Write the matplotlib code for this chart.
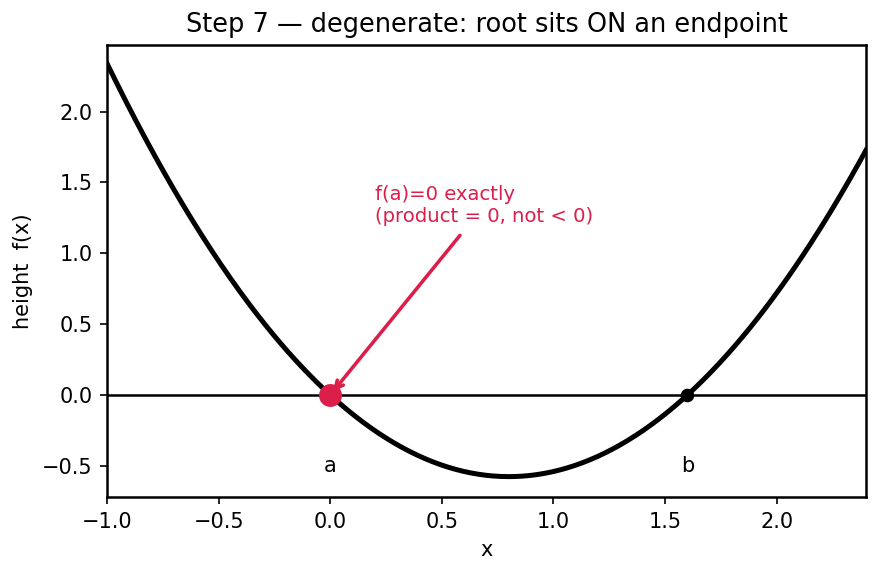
import numpy as np
import matplotlib
matplotlib.use("Agg")
import matplotlib.pyplot as plt

# quadratic: f(x) = k * (x - a) * (x - b)
ROOT_A = 0.0
ROOT_B = 1.6
SCALE_K = 0.9
X_RANGE = (-1.0, 2.4)
Y_RANGE = (-0.72, 2.47)
X_TICKS = [-1.0, -0.5, 0.0, 0.5, 1.0, 1.5, 2.0]
Y_TICKS = [-0.5, 0.0, 0.5, 1.0, 1.5, 2.0]
NOTE = "f(a)=0 exactly\n(product = 0, not < 0)"
RED = "#dc1e4a"


def f(x):
    return SCALE_K * (x - ROOT_A) * (x - ROOT_B)


xs = np.linspace(X_RANGE[0], X_RANGE[1], 400)

fig = plt.figure(figsize=(5.8667, 3.82), dpi=150)
ax = fig.add_axes([0.1216, 0.1326, 0.8625, 0.7889])

ax.plot(xs, f(xs), color="black", lw=2.4, zorder=2)
ax.axhline(0, color="black", lw=1.2, zorder=1)

ax.plot([ROOT_A], [f(ROOT_A)], "o", color=RED, ms=10, zorder=4)
ax.plot([ROOT_B], [f(ROOT_B)], "o", color="black", ms=5.5, zorder=4)

ax.text(ROOT_A, -0.5, "a", ha="center", va="center", fontsize=10)
ax.text(ROOT_B, -0.5, "b", ha="center", va="center", fontsize=10)

ax.annotate(NOTE, xy=(ROOT_A, 0.0), xytext=(0.2, 1.19),
            color=RED, fontsize=9.4, ha="left", va="bottom",
            arrowprops=dict(arrowstyle="->", color=RED, lw=1.7,
                            shrinkA=3, shrinkB=2))

ax.set_xlim(*X_RANGE)
ax.set_ylim(*Y_RANGE)
ax.set_xticks(X_TICKS)
ax.set_yticks(Y_TICKS)
ax.tick_params(labelsize=10)
for sp in ax.spines.values():
    sp.set_linewidth(1.2)

ax.set_xlabel("x", fontsize=10)
ax.set_ylabel("height  f(x)", fontsize=10)
ax.set_title("Step 7 \u2014 degenerate: root sits ON an endpoint", fontsize=12.3)

fig.savefig("out.png", dpi=150)
